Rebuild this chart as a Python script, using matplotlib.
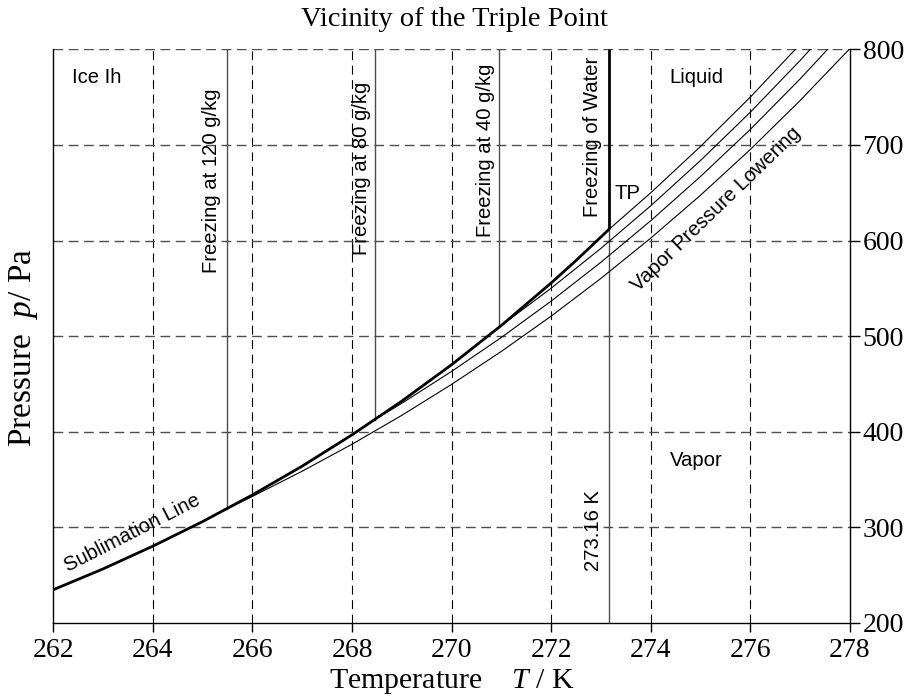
import matplotlib
matplotlib.use("Agg")
import matplotlib.pyplot as plt

plt.rcParams["mathtext.fontset"] = "custom"
plt.rcParams["mathtext.it"] = "Liberation Serif:italic"
plt.rcParams["mathtext.rm"] = "Liberation Serif"

# ------------------------------
# Data
# ------------------------------
temp_sub = [262, 263, 264, 265, 266, 267, 268, 269, 270, 271, 272, 272.5, 273.16]
p_sub = [234.8, 256.6, 280.4, 306.1, 334.0, 364.1, 396.8, 432.1, 470.2, 511.3, 555.7, 579.2, 611.7]

temp_liq = [273.16, 274, 275, 276, 277, 278]
p_liq = [611.7, 650.0, 698.5, 750.1, 805.3, 864.0]

temp_40 = [270.96, 271, 272, 273, 274, 275, 276, 277, 278]
p_40 = [509.6, 511.2, 550.2, 591.9, 636.4, 683.8, 734.3, 788.4, 845.9]

temp_80 = [268.46, 269, 270, 271, 272, 273, 274, 275, 276, 277, 278]
p_80 = [412.8, 429.8, 463.2, 498.7, 536.7, 577.4, 620.8, 667.1, 716.3, 769.1, 825.1]

temp_120 = [265.48, 266, 267, 268, 269, 270, 271, 272, 273, 274, 275, 276, 277, 278]
p_120 = [319.4, 332.4, 358.8, 387.0, 417.2, 449.6, 484.1, 521.0, 560.5, 602.6, 647.5, 695.3, 746.5, 800.9]

freeze_temps = [265.48, 268.46, 270.96]
freeze_p = [319.4, 412.8, 509.6]
freeze_labels = ["Freezing at 120 g/kg", "Freezing at 80 g/kg", "Freezing at 40 g/kg"]

T_tp = 273.16
p_tp = 611.7

x_ticks = [262, 264, 266, 268, 270, 272, 274, 276, 278]
y_ticks = [200, 300, 400, 500, 600, 700, 800]

serif = "Liberation Serif"
sans = "Liberation Sans"

# ------------------------------
# Plotting
# ------------------------------
fig = plt.figure(figsize=(9.05, 6.97), dpi=100)
ax = fig.add_axes([53.3 / 905, 74 / 697, 796.7 / 905, 573.7 / 697])

ax.set_xlim(262, 278)
ax.set_ylim(200, 800)

# grid
for x in x_ticks[1:-1]:
    ax.axvline(x, color="k", lw=0.8, linestyle=(0, (8, 5)), zorder=1)
for y in y_ticks[1:]:
    ax.axhline(y, color="0.3", lw=1.0, linestyle=(0, (7, 4)), zorder=1)

# vapor pressure curves (thin)
for tt, pp in [(temp_liq, p_liq), (temp_40, p_40), (temp_80, p_80), (temp_120, p_120)]:
    ax.plot(tt, pp, color="k", lw=0.8, zorder=3)

# freezing lines of brines
for t, p in zip(freeze_temps, freeze_p):
    ax.plot([t, t], [p, 800], color="0.3", lw=1.0, zorder=2)

# 273.16 K line below the triple point
ax.plot([T_tp, T_tp], [200, p_tp], color="0.3", lw=1.0, zorder=2)

# sublimation line + freezing of water (thick)
ax.plot(temp_sub, p_sub, color="k", lw=2.0, zorder=4, solid_capstyle="butt")
ax.plot([T_tp, T_tp], [p_tp, 800], color="k", lw=2.0, zorder=4, solid_capstyle="butt")

# annotations
txt = dict(family=sans, fontsize=14.6, color="k")
ax.text(262.87, 770, "Ice Ih", ha="center", va="center", **txt)
ax.text(274.92, 771, "Liquid", ha="center", va="center", **txt)
ax.text(274.92, 370, "Vapor", ha="center", va="center", **txt)
ax.text(273.28, 649, "TP", ha="left", va="center", **txt)

label_pos = [(265.18, 566), (268.18, 585), (270.67, 604)]
for (t, p), s in zip(label_pos, freeze_labels):
    ax.text(t, p, s, rotation=90, ha="center", va="bottom", **txt)
ax.text(272.83, 625, "Freezing of Water", rotation=90, ha="center", va="bottom", **txt)
ax.text(272.85, 254, "273.16 K", rotation=90, ha="center", va="bottom", **txt)

ax.text(275.32, 633, "Vapor Pressure Lowering", rotation=44, rotation_mode="anchor",
        ha="center", va="center", **txt)
ax.text(263.59, 294, "Sublimation Line", rotation=27, rotation_mode="anchor",
        ha="center", va="center", **txt)

# axes styling
ax.spines["top"].set_visible(False)
for side in ["left", "right", "bottom"]:
    ax.spines[side].set_linewidth(1.0)

ax.set_xticks(x_ticks)
ax.set_yticks(y_ticks)
ax.yaxis.tick_right()
ax.tick_params(axis="x", direction="out", length=6.5, width=1.0, pad=4)
ax.tick_params(axis="y", direction="out", length=7, width=1.0, pad=2)
for lab in ax.get_xticklabels() + ax.get_yticklabels():
    lab.set_family(serif)
    lab.set_fontsize(20)

fig.text(454 / 905, 1 - 20 / 697, "Vicinity of the Triple Point",
         family=serif, fontsize=20.5, ha="center", va="center")
fig.text(452 / 905, 1 - 682 / 697, "Temperature    $T$ / K",
         family=serif, fontsize=21.5, ha="center", va="center")
fig.text(23 / 905, 1 - 348 / 697, "Pressure  $p$/ Pa",
         family=serif, fontsize=24, ha="center", va="center", rotation=90)

fig.savefig("out.png", dpi=100)
